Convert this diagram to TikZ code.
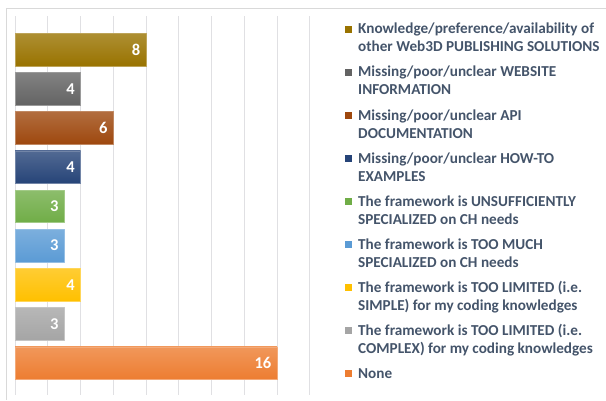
\documentclass[tikz,border=0pt]{standalone}
\usepackage{fontspec}
\setmainfont{Carlito}
\definecolor{barGold}{HTML}{997300}
\definecolor{barGrey}{HTML}{636363}
\definecolor{barRust}{HTML}{9E480E}
\definecolor{barNavy}{HTML}{264478}
\definecolor{barGreen}{HTML}{70AD47}
\definecolor{barBlue}{HTML}{5B9BD5}
\definecolor{barYellow}{HTML}{FFC000}
\definecolor{barSilver}{HTML}{A5A5A5}
\definecolor{barOrange}{HTML}{ED7D31}
\definecolor{legText}{HTML}{44546A}
\tikzset{
  frameline/.style={draw=black!15, line width=0.8pt},
  gridline/.style={draw=blue!10!black!12, line width=1pt},
  val/.style={text=white, anchor=east, inner sep=0pt, font=\fontsize{16.5}{18}\selectfont\bfseries},
  legsq/.style={minimum size=7pt, inner sep=0pt},
  legtxt/.style={text=legText, anchor=base west, inner sep=0pt, align=left}
}
\begin{document}
\begin{tikzpicture}[x=1pt, y=-1pt, font=\fontsize{15.2}{18}\selectfont\bfseries, line join=round]
			\useasboundingbox (0,0) rectangle (606,400);
			\draw[frameline] (606,8)--(6,8)--(6,400);
			\foreach \g in {0,2,...,18} \draw[gridline] ({15+16.375*\g},16)--({15+16.375*\g},395);
			\foreach \v/\c [count=\i] in {8/barGold,4/barGrey,6/barRust,4/barNavy,3/barGreen,3/barBlue,4/barYellow,3/barSilver,16/barOrange}{
				\coordinate (b\i) at (15,{33.3+39.2*(\i-1)});
				\shade[top color=\c!80!white, bottom color=\c, draw=\c!65!white, line width=0.6pt] (b\i) rectangle ++({16.375*\v},32.5);
				\node[val] (v\i) at ({15+16.375*\v-5.5},{49.55+39.2*(\i-1)}) {\v};
			}
			% legend, two-line texts sit on their last baseline
			\node[legsq, fill=barGold] (s1) at (348.5,29) {};
			\node[legtxt] (t1) at (358,51.8) {Knowledge/preference/availability of\\other Web3D PUBLISHING SOLUTIONS};
			\node[legsq, fill=barGrey] (s2) at (348.5,72.1) {};
			\node[legtxt] (t2) at (358,94.9) {Missing/poor/unclear WEBSITE\\INFORMATION};
			\node[legsq, fill=barRust] (s3) at (348.5,115.2) {};
			\node[legtxt] (t3) at (358,138) {Missing/poor/unclear API\\DOCUMENTATION};
			\node[legsq, fill=barNavy] (s4) at (348.5,158.3) {};
			\node[legtxt] (t4) at (358,181.1) {Missing/poor/unclear HOW-TO\\EXAMPLES};
			\node[legsq, fill=barGreen] (s5) at (348.5,201.4) {};
			\node[legtxt] (t5) at (358,224.2) {The framework is UNSUFFICIENTLY\\SPECIALIZED on CH needs};
			\node[legsq, fill=barBlue] (s6) at (348.5,244.5) {};
			\node[legtxt] (t6) at (358,267.3) {The framework is TOO MUCH\\SPECIALIZED on CH needs};
			\node[legsq, fill=barYellow] (s7) at (348.5,287.6) {};
			\node[legtxt] (t7) at (358,310.4) {The framework is TOO LIMITED (i.e.\\SIMPLE) for my coding knowledges};
			\node[legsq, fill=barSilver] (s8) at (348.5,330.7) {};
			\node[legtxt] (t8) at (358,353.5) {The framework is TOO LIMITED (i.e.\\COMPLEX) for my coding knowledges};
			\node[legsq, fill=barOrange] (s9) at (348.5,373.8) {};
			\node[legtxt] (t9) at (358,378.6) {None};
		\end{tikzpicture}
\end{document}
